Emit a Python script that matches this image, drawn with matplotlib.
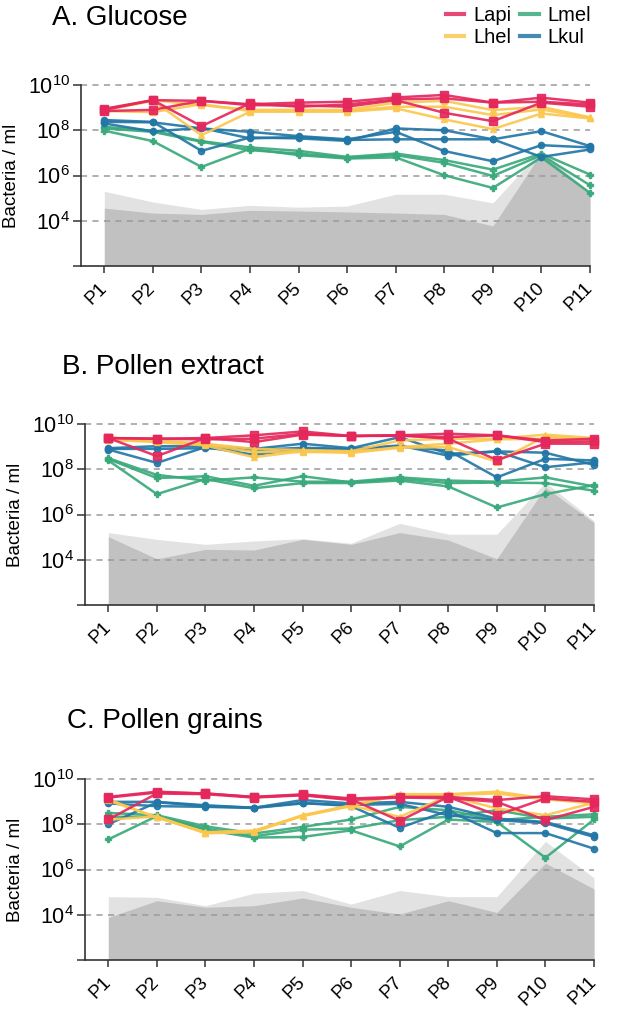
import numpy as np
import matplotlib.pyplot as plt
from matplotlib.lines import Line2D

plt.rcParams['font.family'] = ['Liberation Sans', 'DejaVu Sans']
plt.rcParams['mathtext.fontset'] = 'custom'
plt.rcParams['mathtext.rm'] = 'Liberation Sans'
plt.rcParams['mathtext.it'] = 'Liberation Sans:italic'
plt.rcParams['mathtext.bf'] = 'Liberation Sans:bold'

passages = ['P1', 'P2', 'P3', 'P4', 'P5', 'P6', 'P7', 'P8', 'P9', 'P10', 'P11']
strains = ['Lapi', 'Lhel', 'Lmel', 'Lkul']

# all values are log10(bacteria / ml), three replicate lines per strain

# A. Glucose
glucose_lapi = [[8.95, 9.33, 9.30, 9.15, 9.22, 9.26, 9.45, 9.56, 9.22, 9.44, 9.22],
                [8.90, 9.33, 8.18, 9.19, 9.04, 9.14, 9.36, 9.41, 9.22, 9.26, 9.14],
                [8.85, 8.90, 9.30, 9.11, 9.10, 9.04, 9.33, 8.77, 8.40, 9.22, 9.04]]
glucose_lhel = [[8.90, 9.33, 9.11, 8.90, 8.90, 8.90, 9.22, 9.30, 8.89, 9.04, 8.57],
                [8.85, 8.80, 9.15, 8.85, 8.85, 8.85, 9.04, 9.04, 8.67, 8.92, 8.55],
                [8.88, 9.30, 7.78, 8.82, 8.82, 8.82, 8.97, 8.48, 8.05, 8.74, 8.52]]
glucose_lmel = [[8.15, 7.98, 7.52, 7.24, 7.09, 6.82, 6.97, 6.68, 6.26, 6.97, 6.04],
                [8.08, 7.93, 7.49, 7.12, 6.97, 6.78, 6.90, 6.56, 5.98, 6.90, 5.57],
                [7.98, 7.52, 6.38, 7.18, 6.90, 6.75, 6.80, 6.01, 5.45, 6.80, 5.23]]
glucose_lkul = [[8.45, 8.37, 7.09, 7.68, 7.64, 7.53, 8.08, 8.00, 7.60, 7.96, 7.30],
                [8.37, 8.35, 8.08, 7.93, 7.74, 7.60, 7.93, 7.08, 6.63, 7.34, 7.24],
                [8.30, 7.95, 8.10, 7.64, 7.70, 7.57, 7.60, 7.60, 7.60, 6.82, 7.15]]
glucose_light = [5.30, 4.83, 4.50, 4.68, 4.60, 4.65, 5.17, 5.17, 4.79, 7.12, 5.27]
glucose_dark = [4.56, 4.34, 4.28, 4.46, 4.43, 4.39, 4.34, 4.28, 3.77, 7.00, 5.20]

# B. Pollen extract
extract_lapi = [[9.38, 9.35, 9.38, 9.50, 9.67, 9.47, 9.50, 9.57, 9.50, 9.27, 9.35],
                [9.38, 9.35, 9.32, 9.35, 9.57, 9.47, 9.48, 9.42, 9.50, 9.20, 9.23],
                [9.38, 8.58, 9.38, 9.20, 9.53, 9.47, 9.50, 9.35, 8.41, 9.13, 9.13]]
extract_lhel = [[9.35, 9.27, 9.13, 8.90, 8.85, 8.80, 9.27, 9.35, 9.35, 9.53, 9.38],
                [9.33, 9.25, 9.10, 8.76, 8.76, 8.76, 8.98, 9.13, 9.32, 9.35, 9.27],
                [9.30, 9.20, 9.05, 8.53, 8.80, 8.72, 8.95, 8.98, 8.34, 9.45, 9.30]]
extract_lmel = [[8.49, 7.75, 7.50, 7.64, 7.45, 7.45, 7.64, 7.50, 7.45, 7.64, 7.24],
                [8.45, 7.61, 7.69, 7.27, 7.69, 7.42, 7.57, 7.39, 7.41, 7.39, 7.05],
                [8.39, 6.90, 7.57, 7.16, 7.39, 7.39, 7.50, 7.24, 6.31, 6.90, 7.30]]
extract_lkul = [[8.93, 9.02, 9.02, 8.90, 9.13, 8.93, 9.42, 8.68, 8.79, 8.73, 8.19],
                [8.90, 8.90, 8.93, 8.85, 8.95, 8.90, 9.05, 8.60, 8.79, 8.09, 8.31],
                [8.87, 8.28, 8.98, 8.64, 8.90, 8.88, 9.00, 8.83, 7.64, 8.46, 8.39]]
extract_light = [5.20, 4.90, 4.68, 4.83, 4.93, 4.73, 5.61, 5.13, 5.13, 7.42, 5.72]
extract_dark = [5.02, 4.04, 4.46, 4.43, 4.90, 4.68, 5.20, 4.87, 4.04, 7.20, 5.64]

# C. Pollen grains
grains_lapi = [[9.21, 9.44, 9.36, 9.21, 9.32, 9.14, 9.21, 9.21, 9.07, 9.24, 9.10],
               [9.18, 9.40, 9.36, 9.20, 9.30, 9.10, 8.15, 9.21, 8.40, 9.14, 8.99],
               [8.21, 9.36, 9.33, 9.18, 9.28, 9.07, 9.18, 9.15, 8.99, 8.18, 8.77]]
grains_lhel = [[9.10, 8.30, 7.62, 7.70, 8.40, 8.84, 9.33, 9.33, 9.44, 9.14, 8.99],
               [9.05, 8.30, 7.65, 7.72, 8.36, 8.80, 9.30, 9.30, 9.36, 9.10, 8.92],
               [8.20, 8.35, 7.60, 7.65, 8.38, 8.82, 8.33, 9.25, 8.70, 8.40, 8.95]]
grains_lmel = [[8.50, 8.40, 7.91, 7.59, 7.88, 8.21, 8.77, 8.62, 8.18, 8.33, 8.44],
               [8.33, 8.33, 7.81, 7.47, 7.76, 7.81, 8.18, 8.33, 8.62, 8.25, 8.33],
               [7.33, 8.36, 7.76, 7.41, 7.44, 7.73, 7.02, 8.21, 8.10, 6.52, 8.21]]
grains_lkul = [[8.99, 8.99, 8.84, 8.73, 9.07, 8.92, 8.99, 8.77, 8.25, 8.10, 7.51],
               [8.92, 8.80, 8.77, 8.72, 8.92, 8.85, 8.90, 8.40, 8.18, 8.05, 7.44],
               [8.00, 8.97, 8.80, 8.73, 8.95, 8.80, 7.84, 8.60, 7.61, 7.61, 6.92]]
grains_light = [4.80, 4.77, 4.40, 4.95, 5.07, 4.47, 5.07, 4.80, 4.80, 7.24, 5.63]
grains_dark = [3.88, 4.62, 4.33, 4.40, 4.74, 4.33, 4.03, 4.62, 4.10, 6.28, 5.14]

colors = {'Lapi': '#e4285c', 'Lhel': '#fbc74f', 'Lmel': '#3aa97c', 'Lkul': '#2277a6'}
markers = {'Lapi': 's', 'Lhel': '^', 'Lmel': 'P', 'Lkul': 'o'}
msizes = {'Lapi': 6, 'Lhel': 5, 'Lmel': 4.5, 'Lkul': 4.5}

panels = [
    ('A. Glucose', 81, 85, 52, 25,
     {'Lapi': glucose_lapi, 'Lhel': glucose_lhel, 'Lmel': glucose_lmel, 'Lkul': glucose_lkul},
     glucose_light, glucose_dark),
    ('B. Pollen extract', 85, 424, 62, 374,
     {'Lapi': extract_lapi, 'Lhel': extract_lhel, 'Lmel': extract_lmel, 'Lkul': extract_lkul},
     extract_light, extract_dark),
    ('C. Pollen grains', 85, 779, 67, 728,
     {'Lapi': grains_lapi, 'Lhel': grains_lhel, 'Lmel': grains_lmel, 'Lkul': grains_lkul},
     grains_light, grains_dark),
]

W, H = 628, 1014
fig = plt.figure(figsize=(W / 100, H / 100), dpi=100)
x = np.arange(len(passages))

for title, left, top, tx, ty, data, light, dark in panels:
    ax = fig.add_axes([left / W, 1 - (top + 181) / H, 509 / W, 181 / H])
    ax.fill_between(x, 10 ** 2.03, 10 ** np.array(light), color='#e2e2e2', lw=0, zorder=1)
    ax.fill_between(x, 10 ** 2.03, 10 ** np.array(dark), color='#c1c1c1', lw=0, zorder=1.1)
    for e in [4, 6, 8, 10]:
        ax.axhline(10 ** e, color='#9a9a9a', lw=1.1, ls=(0, (4, 3.5)), zorder=1.5, clip_on=False)
    for s in ['Lmel', 'Lkul', 'Lhel', 'Lapi']:
        for rep in data[s]:
            ax.plot(x, 10 ** np.array(rep), color=colors[s], marker=markers[s],
                    ms=msizes[s], lw=1.8, alpha=0.92, zorder=3, clip_on=False)
    ax.set_yscale('log')
    ax.set_ylim(1e2, 1e10)
    ax.set_xlim(-0.48, 10)
    ax.set_yticks([1e2, 1e4, 1e6, 1e8, 1e10])
    ax.set_yticklabels(['', r'$10^{4}$', r'$10^{6}$', r'$10^{8}$', r'$10^{10}$'])
    ax.yaxis.set_minor_locator(plt.NullLocator())
    ax.set_xticks(x)
    ax.set_xticklabels(passages, rotation=45, ha='right', va='center', rotation_mode='anchor')
    ax.tick_params(axis='y', labelsize=15.5, length=6, width=1.1, pad=2, color='#333333')
    ax.tick_params(axis='x', labelsize=13.5, length=5, width=1.1, pad=9, color='#333333')
    for side in ['top', 'right']:
        ax.spines[side].set_visible(False)
    for side in ['left', 'bottom']:
        ax.spines[side].set_linewidth(1.2)
        ax.spines[side].set_color('#333333')
    ax.set_ylabel('Bacteria / ml', fontsize=13.5)
    ax.yaxis.set_label_coords(-0.12, 0.5)
    fig.text(tx / W, 1 - ty / H, title, fontsize=20, ha='left', va='baseline')

handles = [Line2D([], [], color=colors[s], lw=3, alpha=0.85) for s in strains]
fig.legend(handles, strains, ncol=2, loc='upper left', bbox_to_anchor=(446 / W, 1 - 6 / H),
           frameon=False, fontsize=14.5, handlelength=0.9, handletextpad=0.45,
           columnspacing=0.45, labelspacing=0.15, borderpad=0, borderaxespad=0)

fig.savefig('out.png', dpi=100)
